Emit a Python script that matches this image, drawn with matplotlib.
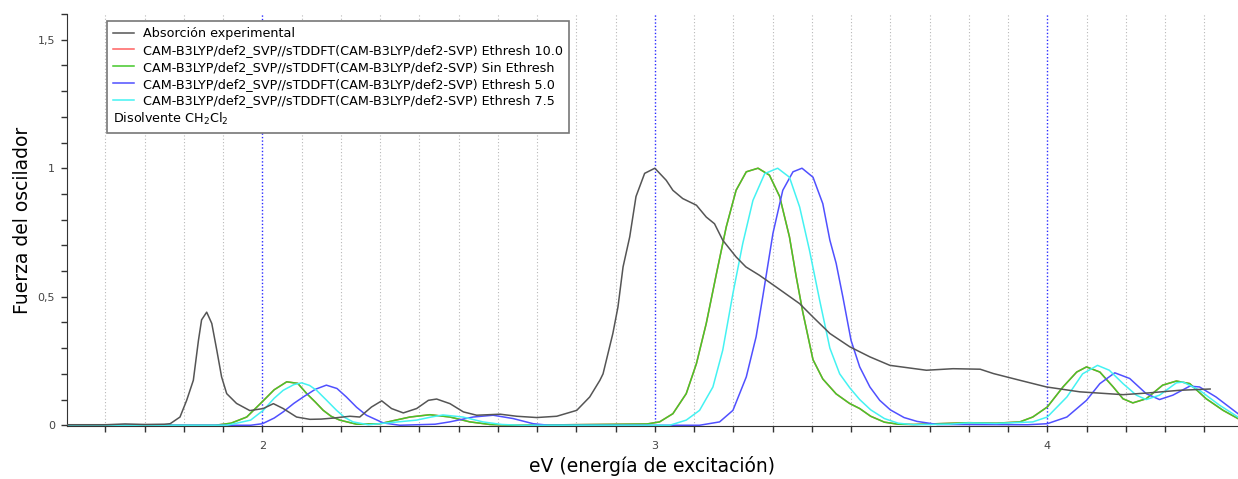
import matplotlib
matplotlib.use('Agg')
import matplotlib.pyplot as plt
from matplotlib.lines import Line2D
from matplotlib.ticker import MultipleLocator, FixedLocator, FuncFormatter

# espectro experimental (CH2Cl2), normalizado
EXP_X = [1.50, 1.60, 1.65, 1.70, 1.75, 1.765, 1.79, 1.807, 1.824, 1.837, 1.845, 1.858,
         1.871, 1.884, 1.896, 1.909, 1.934, 1.968, 2.002, 2.028, 2.053, 2.087, 2.121,
         2.15, 2.181, 2.223, 2.248, 2.278, 2.304, 2.329, 2.359, 2.393, 2.423, 2.444,
         2.478, 2.512, 2.546, 2.606, 2.648, 2.699, 2.75, 2.801, 2.834, 2.86, 2.868,
         2.893, 2.906, 2.919, 2.936, 2.952, 2.974, 3.0, 3.029, 3.046, 3.071, 3.106,
         3.131, 3.152, 3.173, 3.207, 3.232, 3.266, 3.309, 3.369, 3.403, 3.446, 3.497,
         3.548, 3.599, 3.692, 3.76, 3.829, 3.863, 3.93, 3.998, 4.083, 4.193, 4.26,
         4.337, 4.415]
EXP_Y = [0.002, 0.002, 0.005, 0.003, 0.004, 0.006, 0.032, 0.097, 0.175, 0.33, 0.41, 0.44,
         0.396, 0.29, 0.188, 0.123, 0.085, 0.057, 0.065, 0.084, 0.065, 0.032, 0.023,
         0.024, 0.028, 0.035, 0.032, 0.071, 0.095, 0.065, 0.048, 0.065, 0.097, 0.102,
         0.084, 0.052, 0.039, 0.043, 0.035, 0.03, 0.035, 0.058, 0.11, 0.175, 0.2,
         0.357, 0.46, 0.616, 0.733, 0.89, 0.98, 1.0, 0.953, 0.914, 0.882, 0.856,
         0.81, 0.784, 0.72, 0.655, 0.616, 0.584, 0.538, 0.473, 0.421, 0.357, 0.305,
         0.266, 0.233, 0.214, 0.22, 0.218, 0.201, 0.175, 0.149, 0.13, 0.119, 0.126,
         0.136, 0.141]

# sTDDFT sin Ethresh (Ethresh 10.0 coincide)
SIN_X = [1.50, 1.88, 1.92, 1.96, 2.0, 2.03, 2.062, 2.09, 2.113, 2.135, 2.155, 2.175, 2.197,
         2.24, 2.30, 2.34, 2.376, 2.427, 2.478, 2.529, 2.58, 2.64, 2.98, 3.012, 3.046,
         3.08, 3.106, 3.131, 3.157, 3.182, 3.207, 3.233, 3.263, 3.292, 3.318, 3.343,
         3.36, 3.377, 3.403, 3.428, 3.462, 3.496, 3.522, 3.55, 3.585, 3.62, 3.66, 3.72,
         3.80, 3.87, 3.93, 3.963, 4.0, 4.04, 4.075, 4.1, 4.134, 4.168, 4.193, 4.218,
         4.252, 4.294, 4.329, 4.363, 4.405, 4.448, 4.486]
SIN_Y = [0.0, 0.0, 0.008, 0.032, 0.092, 0.138, 0.169, 0.163, 0.123, 0.09, 0.058, 0.035, 0.02,
         0.004, 0.006, 0.02, 0.032, 0.041, 0.032, 0.013, 0.003, 0.0, 0.005, 0.013, 0.045,
         0.123, 0.24, 0.396, 0.59, 0.772, 0.914, 0.986, 1.0, 0.973, 0.89, 0.733,
         0.58, 0.44, 0.255, 0.18, 0.122, 0.085, 0.065, 0.035, 0.012, 0.004, 0.003, 0.006,
         0.01, 0.008, 0.013, 0.032, 0.071, 0.149, 0.207, 0.227, 0.207, 0.149, 0.103, 0.087,
         0.103, 0.156, 0.172, 0.162, 0.103, 0.058, 0.026]

# sTDDFT Ethresh 7.5
E75_X = [1.50, 1.91, 1.97, 2.002, 2.03, 2.053, 2.08, 2.1, 2.12, 2.138, 2.165, 2.189, 2.21,
         2.231, 2.27, 2.393, 2.43, 2.46, 2.511, 2.562, 2.61, 2.66, 3.038, 3.08, 3.114,
         3.148, 3.173, 3.199, 3.224, 3.25, 3.28, 3.313, 3.343, 3.369, 3.394, 3.42, 3.446,
         3.471, 3.497, 3.522, 3.55, 3.585, 3.62, 3.66, 3.75, 3.80, 3.87, 3.963, 4.0, 4.05,
         4.09, 4.128, 4.158, 4.193, 4.227, 4.252, 4.286, 4.329, 4.346, 4.388, 4.439, 4.486]
E75_Y = [0.0, 0.0, 0.02, 0.058, 0.105, 0.136, 0.158, 0.165, 0.155, 0.136, 0.095, 0.058, 0.03,
         0.013, 0.002, 0.02, 0.032, 0.04, 0.032, 0.013, 0.003, 0.0, 0.0, 0.02, 0.058,
         0.149, 0.292, 0.513, 0.707, 0.875, 0.979, 1.0, 0.965, 0.849, 0.681, 0.486, 0.3,
         0.2, 0.145, 0.1, 0.06, 0.026, 0.008, 0.002, 0.004, 0.009, 0.007, 0.013, 0.032, 0.11,
         0.2, 0.233, 0.214, 0.162, 0.117, 0.1, 0.117, 0.165, 0.168, 0.136, 0.078, 0.032]

# sTDDFT Ethresh 5.0
E50_X = [1.50, 1.97, 2.0, 2.03, 2.053, 2.08, 2.104, 2.135, 2.163, 2.19, 2.214, 2.24, 2.265,
         2.308, 2.35, 2.44, 2.477, 2.537, 2.588, 2.639, 2.69, 2.73, 3.114, 3.165, 3.199,
         3.233, 3.258, 3.275, 3.301, 3.326, 3.352, 3.375, 3.403, 3.428, 3.446, 3.462,
         3.479, 3.5, 3.522, 3.548, 3.573, 3.6, 3.635, 3.668, 3.72, 3.95, 4.0, 4.05, 4.1,
         4.134, 4.172, 4.21, 4.252, 4.286, 4.32, 4.363, 4.388, 4.43, 4.486]
E50_Y = [0.0, 0.0, 0.006, 0.028, 0.052, 0.085, 0.11, 0.14, 0.156, 0.143, 0.11, 0.07, 0.039,
         0.009, 0.0, 0.004, 0.013, 0.032, 0.039, 0.026, 0.006, 0.0, 0.0, 0.013, 0.058,
         0.188, 0.344, 0.5, 0.747, 0.914, 0.986, 1.0, 0.965, 0.862, 0.72, 0.63,
         0.5, 0.33, 0.227, 0.149, 0.097, 0.06, 0.03, 0.015, 0.003, 0.002, 0.006, 0.032, 0.097,
         0.162, 0.204, 0.182, 0.123, 0.1, 0.117, 0.152, 0.149, 0.11, 0.045]

LEGEND_LABELS = [
    'Absorción experimental',
    'CAM-B3LYP/def2_SVP//sTDDFT(CAM-B3LYP/def2-SVP) Ethresh 10.0',
    'CAM-B3LYP/def2_SVP//sTDDFT(CAM-B3LYP/def2-SVP) Sin Ethresh',
    'CAM-B3LYP/def2_SVP//sTDDFT(CAM-B3LYP/def2-SVP) Ethresh 5.0',
    'CAM-B3LYP/def2_SVP//sTDDFT(CAM-B3LYP/def2-SVP) Ethresh 7.5',
]

C_EXP = '#555555'
C_RED = '#ff6060'
C_GREEN = '#44c82a'
C_BLUE = '#5050ff'
C_CYAN = '#44f2f2'

LEG_FS = 9.15


def comma_fmt(v, pos):
    s = ('%.1f' % v).rstrip('0').rstrip('.')
    return s.replace('.', ',')


def plot_spectra():
    fig = plt.figure(figsize=(12.38, 4.79), dpi=100)
    ax = fig.add_axes([0.0541, 0.1106, 0.9459, 0.8602])

    ax.plot(EXP_X, EXP_Y, color=C_EXP, lw=1.1, zorder=3)
    ax.plot(SIN_X, SIN_Y, color=C_RED, lw=1.1, zorder=2)
    ax.plot(SIN_X, SIN_Y, color=C_GREEN, lw=1.1, zorder=2.1)
    ax.plot(E50_X, E50_Y, color=C_BLUE, lw=1.1, zorder=2.2)
    ax.plot(E75_X, E75_Y, color=C_CYAN, lw=1.1, zorder=2.3)

    ax.set_xlim(1.502, 4.486)
    ax.set_ylim(-0.003, 1.6)

    minor_x = [round(1.5 + 0.1 * i, 1) for i in range(30)]
    minor_x = [v for v in minor_x if abs(v - round(v)) > 0.01]
    ax.xaxis.set_major_locator(MultipleLocator(1))
    ax.xaxis.set_minor_locator(FixedLocator(minor_x))
    ax.yaxis.set_major_locator(MultipleLocator(0.5))
    ax.yaxis.set_minor_locator(MultipleLocator(0.1))
    ax.xaxis.set_major_formatter(FuncFormatter(comma_fmt))
    ax.yaxis.set_major_formatter(FuncFormatter(comma_fmt))

    ax.grid(which='minor', axis='x', color='#b8b8b8', ls=(0, (1, 2)), lw=0.8)
    ax.grid(which='major', axis='x', color='#2a2aff', ls=(0, (1, 1.5)), lw=1.0)

    ax.tick_params(which='both', direction='out', length=4.5, width=1, color='#333333',
                   labelsize=8, labelcolor='#444444')
    ax.tick_params(axis='x', pad=6)
    ax.tick_params(axis='y', pad=4)
    for side in ('top', 'right'):
        ax.spines[side].set_visible(False)
    for side in ('left', 'bottom'):
        ax.spines[side].set_color('#333333')

    ax.set_xlabel('eV (energía de excitación)', fontsize=13.5, labelpad=4)
    ax.set_ylabel('Fuerza del oscilador', fontsize=13.5, labelpad=4)

    handles = [Line2D([], [], color=c, lw=1.1) for c in (C_EXP, C_RED, C_GREEN, C_BLUE, C_CYAN)]
    handles.append(Line2D([], [], color='none'))
    labels = LEGEND_LABELS + ['Disolvente CH$_2$Cl$_2$']
    hl, hp = 1.7, 0.7
    leg = ax.legend(handles, labels, loc='upper left', bbox_to_anchor=(0.034, 0.982),
                    borderaxespad=0, fontsize=LEG_FS, frameon=True, fancybox=False,
                    framealpha=1, edgecolor='#777777', handlelength=hl, handletextpad=hp,
                    labelspacing=0.3, borderpad=0.45)
    leg.get_frame().set_linewidth(1.2)
    shift = (hl + hp) * LEG_FS * fig.dpi / 72.0
    leg.get_texts()[-1].set_x(-shift)

    fig.savefig('out.png', dpi=100)


if __name__ == '__main__':
    plot_spectra()
